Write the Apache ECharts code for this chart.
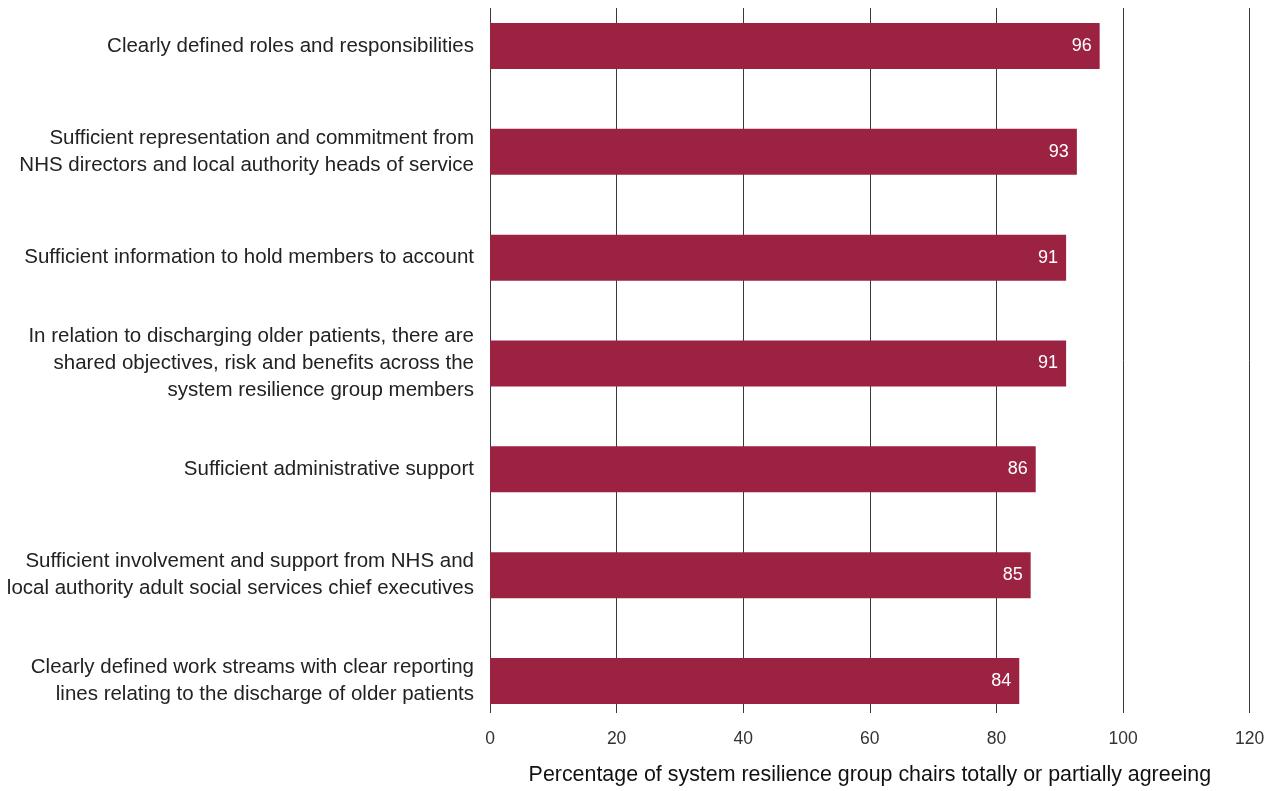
<!DOCTYPE html>
<html>
<head>
<meta charset="utf-8">
<script src="https://cdn.jsdelivr.net/npm/echarts@6/dist/echarts.min.js"></script>
<style>
html,body{margin:0;padding:0;background:#fff;}
#chart{width:1274px;height:791px;}
</style>
</head>
<body>
<div id="chart"></div>
<script>
const categories = [
  "Clearly defined roles and responsibilities",
  "Sufficient representation and commitment from\nNHS directors and local authority heads of service",
  "Sufficient information to hold members to account",
  "In relation to discharging older patients, there are\nshared objectives, risk and benefits across the\nsystem resilience group members",
  "Sufficient administrative support",
  "Sufficient involvement and support from NHS and\nlocal authority adult social services chief executives",
  "Clearly defined work streams with clear reporting\nlines relating to the discharge of older patients"
];
const values = [96.3, 92.7, 91.0, 91.0, 86.2, 85.4, 83.6];
const xTicks = { min: 0, max: 120, interval: 20 };
const axisName = "Percentage of system resilience group chairs totally or partially agreeing";

const FONT = "Liberation Sans, Arial, Helvetica, sans-serif";
const chart = echarts.init(document.getElementById('chart'), null, {renderer: 'canvas'});
chart.setOption({
  animation: false,
  backgroundColor: '#fff',
  grid: [
    { left: 490, right: 24.3, top: 8, bottom: 73.3 },
    { left: 490, right: 24.3, top: 46, bottom: 110 }
  ],
  xAxis: [
    {
      gridIndex: 0, type: 'value', min: xTicks.min, max: xTicks.max, interval: xTicks.interval,
      axisLine: { show: false }, axisTick: { show: false },
      splitLine: { show: true, lineStyle: { color: '#3a3a3a', width: 1 } },
      axisLabel: { color: '#333', fontSize: 17.5, fontFamily: FONT, margin: 17 },
      name: axisName, nameLocation: 'middle', nameGap: 52,
      nameTextStyle: { color: '#111', fontSize: 21.4, fontFamily: FONT }
    },
    {
      gridIndex: 1, type: 'value', min: xTicks.min, max: xTicks.max, interval: xTicks.interval,
      show: false
    }
  ],
  yAxis: [
    { gridIndex: 0, type: 'value', show: false },
    {
      gridIndex: 1, type: 'category', inverse: true, boundaryGap: false, data: categories,
      axisLine: { show: false }, axisTick: { show: false }, splitLine: { show: false },
      axisLabel: { color: '#222', fontSize: 20.5, fontFamily: FONT, margin: 16, lineHeight: 27,
                   align: 'right', padding: [6, 0, 0, 0] }
    }
  ],
  series: [{
    type: 'bar', xAxisIndex: 1, yAxisIndex: 1, data: values, barWidth: 46, clip: false,
    itemStyle: { color: '#9b2240' },
    label: {
      show: true, position: 'insideRight', distance: 8, color: '#fff',
      fontSize: 18, fontFamily: FONT,
      formatter: p => Math.round(p.value)
    }
  }]
});
</script>
</body>
</html>
